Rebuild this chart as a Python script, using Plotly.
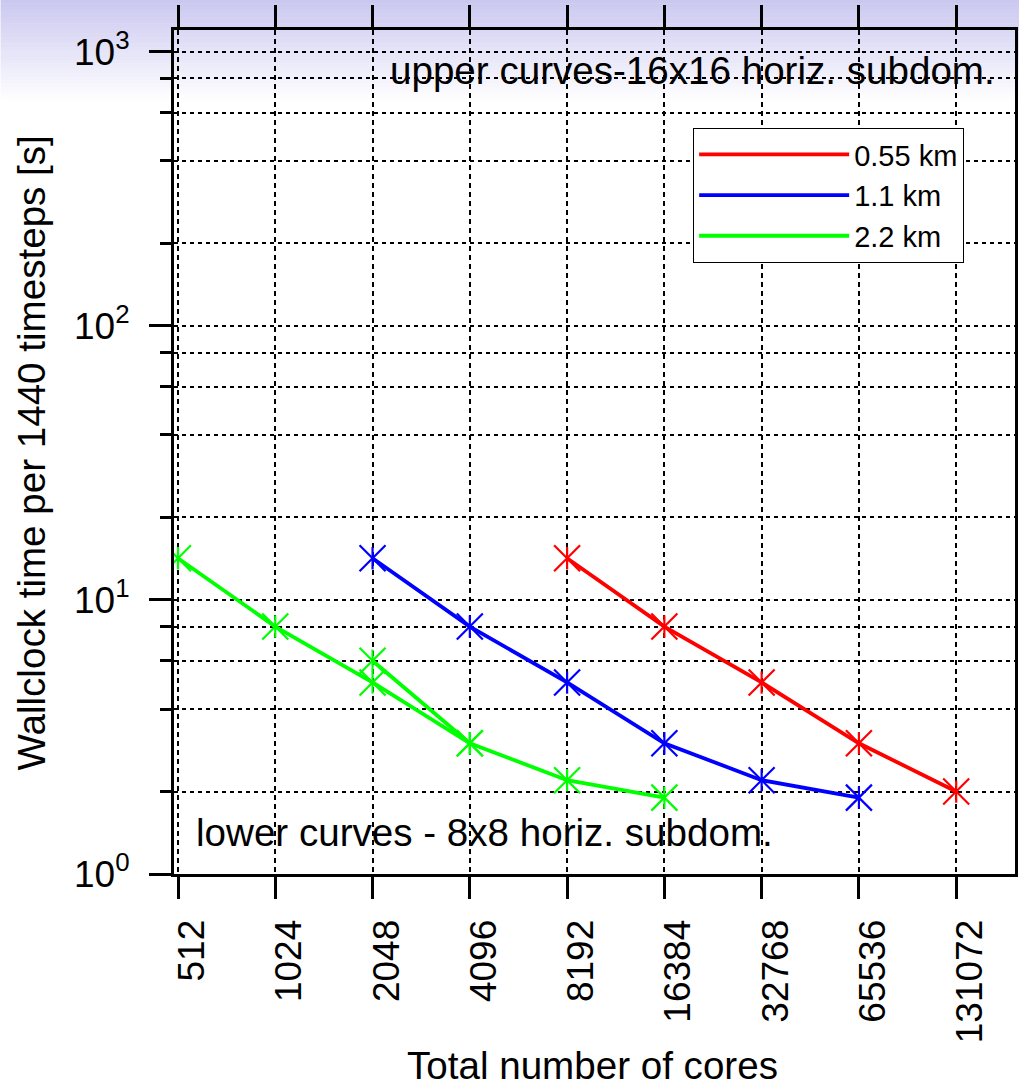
import plotly.graph_objects as go

# ---- data ----
cores = [512, 1024, 2048, 4096, 8192, 16384, 32768, 65536, 131072]
core_labels = ["512", "1024", "2048", "4096", "8192", "16384", "32768", "65536", "131072"]

red_x = [8192, 16384, 32768, 65536, 131072]
red_y = [14.2, 8.0, 5.0, 3.0, 2.0]

blue_x = [2048, 4096, 8192, 16384, 32768, 65536]
blue_y = [14.2, 8.0, 5.0, 3.0, 2.2, 1.9]

green_x = [512, 1024, 2048, 4096, 8192, 16384]
green_y = [14.2, 8.0, 5.0, 3.0, 2.2, 1.9]

green_alt_x = [2048, 4096]
green_alt_y = [6.0, 3.0]

series_names = ["0.55 km", "1.1 km", "2.2 km"]
series_colors = ["#ff0000", "#0000ff", "#00ff00"]

y_major = [1, 10, 100, 1000]
y_major_text = ["10<sup>0</sup>", "10<sup>1</sup>", "10<sup>2</sup>", "10<sup>3</sup>"]
y_minor = [m * d for d in (1, 10, 100) for m in (2, 4, 6, 8)]

FONT = "Liberation Sans, Arial, Helvetica, sans-serif"

W, H = 1022, 1088
L, R, T, B = 174, 4, 30, 214
PW, PH = W - L - R, H - T - B


def px(x):
    return (x - L) / PW


def py(y):
    return (H - B - y) / PH


fig = go.Figure()

series = [
    (red_x, red_y),
    (blue_x, blue_y),
    (green_x, green_y),
]

# lines (with legend)
for (xs, ys), name, col in zip(series, series_names, series_colors):
    fig.add_trace(go.Scatter(x=xs, y=ys, mode="lines", name=name,
                             line=dict(color=col, width=3.8)))
fig.add_trace(go.Scatter(x=green_alt_x, y=green_alt_y, mode="lines",
                         showlegend=False, line=dict(color=series_colors[2], width=3.8)))

# markers (x + vertical bar -> star)
all_series = series + [(green_alt_x, green_alt_y)]
all_cols = series_colors + [series_colors[2]]
for (xs, ys), col in zip(all_series, all_cols):
    fig.add_trace(go.Scatter(x=xs, y=ys, mode="markers", showlegend=False,
                             marker=dict(symbol="x-thin-open", size=26, color=col,
                                         line=dict(color=col, width=2.2))))
    fig.add_trace(go.Scatter(x=xs, y=ys, mode="markers", showlegend=False,
                             marker=dict(symbol="line-ns-open", size=16, color=col,
                                         line=dict(color=col, width=2.2))))

# background gradient at top
n = 30
top_col = (203, 200, 240)
for i in range(n):
    f = i / n
    c = tuple(int(round(tc + (255 - tc) * f)) for tc in top_col)
    y0 = i * 100 / n
    y1 = (i + 1) * 100 / n + 0.5
    fig.add_shape(type="rect", xref="paper", yref="paper",
                  x0=px(0), x1=px(W), y0=py(y1), y1=py(y0),
                  fillcolor="rgb(%d,%d,%d)" % c, line=dict(width=0), layer="below")

fig.update_layout(
    width=W, height=H,
    margin=dict(l=L, r=R, t=T, b=B, pad=0),
    paper_bgcolor="white",
    plot_bgcolor="rgba(0,0,0,0)",
    font=dict(family=FONT, size=37, color="black"),
    showlegend=True,
    legend=dict(x=px(695), y=py(128), xanchor="left", yanchor="top",
                bgcolor="white", bordercolor="black", borderwidth=1,
                font=dict(size=29), itemwidth=150, tracegroupgap=0),
)

fig.update_xaxes(
    type="log",
    range=[2.6969, 5.2995],
    tickmode="array", tickvals=cores, ticktext=core_labels,
    tickangle=-90,
    ticks="outside", ticklen=22, tickwidth=3, tickcolor="black",
    showline=True, linewidth=3, linecolor="black", mirror="ticks",
    showgrid=True, gridcolor="black", gridwidth=1.5, griddash="5px,4px",
    zeroline=False,
    ticklabelshift=14, ticklabelstandoff=6,
    tickfont=dict(size=37),
)

fig.update_yaxes(
    type="log",
    range=[0, 3.080],
    tickmode="array", tickvals=y_major, ticktext=y_major_text,
    ticks="outside", ticklen=22, tickwidth=3, tickcolor="black",
    showline=True, linewidth=3, linecolor="black", mirror=True,
    showgrid=True, gridcolor="black", gridwidth=2, griddash="4px,4px",
    zeroline=False,
    ticklabelstandoff=12,
    tickfont=dict(size=37),
    minor=dict(tickmode="array", tickvals=y_minor, ticks="outside", ticklen=11,
               tickwidth=3, tickcolor="black",
               showgrid=True, gridcolor="black", gridwidth=2, griddash="4px,4px"),
)

# axis titles & text annotations
TS = 38.6
fig.add_annotation(text="Wallclock time per 1440 timesteps [s]", xref="paper", yref="paper",
                   x=px(30), y=py(453), textangle=-90, showarrow=False,
                   xanchor="center", yanchor="middle", font=dict(size=TS))
fig.add_annotation(text="Total number of cores", xref="paper", yref="paper",
                   x=px(594), y=py(1065), showarrow=False,
                   xanchor="center", yanchor="middle", font=dict(size=TS))
fig.add_annotation(text="upper curves-16x16 horiz. subdom.", xref="paper", yref="paper",
                   x=px(1000), y=py(71), showarrow=False,
                   xanchor="right", yanchor="middle", font=dict(size=TS))
fig.add_annotation(text="lower curves - 8x8 horiz. subdom.", xref="paper", yref="paper",
                   x=px(194), y=py(832), showarrow=False,
                   xanchor="left", yanchor="middle", font=dict(size=TS))

fig.write_html("out.html",
               config={"displayModeBar": False},
               post_script="document.body.style.margin='0';document.body.style.padding='0';")
